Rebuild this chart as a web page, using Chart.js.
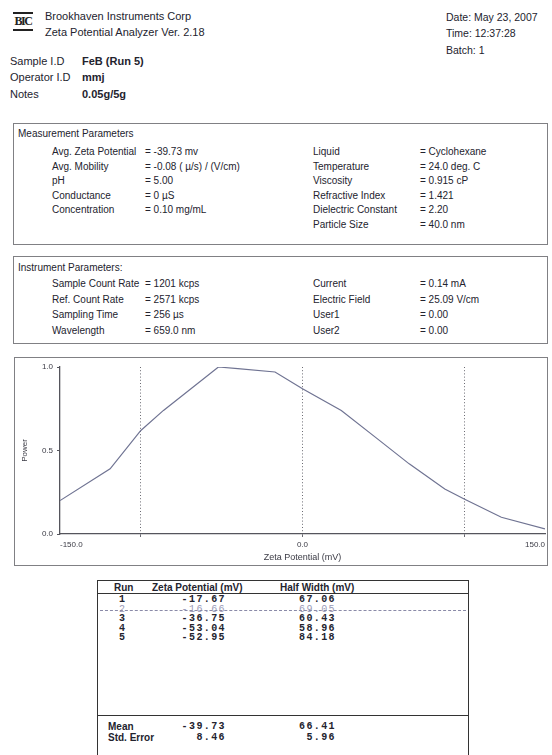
<!DOCTYPE html>
<html><head><meta charset="utf-8">
<script src="https://cdn.jsdelivr.net/npm/chart.js@4.4.1/dist/chart.umd.min.js"></script>
<style>
html,body{margin:0;padding:0;background:#fff;}
body{width:552px;height:755px;position:relative;overflow:hidden;font-family:"Liberation Sans",Arial,sans-serif;color:#23232e;}
.t{position:absolute;white-space:nowrap;line-height:1;}
.b{font-weight:bold;}
.box{position:absolute;border:1.5px solid #808084;box-sizing:border-box;}
.m{font-family:"Liberation Mono","DejaVu Sans Mono",monospace;font-weight:bold;font-size:10px;letter-spacing:1.4px;}
.s10{font-size:10px;}
.s11{font-size:11px;}
#logo{position:absolute;left:13px;top:12px;width:20px;height:19px;border-top:2px solid #222;border-bottom:2px solid #222;box-sizing:border-box;font:bold 12px "Liberation Serif",serif;letter-spacing:-1.5px;line-height:15px;text-align:center;color:#222;}
</style></head><body>

<div id="logo">BIC</div>
<div class="t s11" style="left:45px;top:10.5px">Brookhaven Instruments Corp</div>
<div class="t s11" style="left:45px;top:27px">Zeta Potential Analyzer Ver. 2.18</div>

<div class="t" style="left:446px;top:11.5px;font-size:10.5px">Date: May 23, 2007</div>
<div class="t" style="left:446px;top:28px;font-size:10.5px">Time: 12:37:28</div>
<div class="t" style="left:446px;top:44.7px;font-size:10.5px">Batch: 1</div>

<div class="t s11" style="left:10px;top:55.5px">Sample I.D</div>
<div class="t s11 b" style="left:82px;top:55.5px">FeB (Run 5)</div>
<div class="t s11" style="left:10px;top:71.5px">Operator I.D</div>
<div class="t s11 b" style="left:82px;top:71.5px">mmj</div>
<div class="t s11" style="left:10px;top:88.5px">Notes</div>
<div class="t s11 b" style="left:82px;top:88.5px">0.05g/5g</div>

<div class="box" style="left:13px;top:123px;width:535px;height:122px"></div>
<div class="t s10" style="left:18px;top:129px">Measurement Parameters</div>

<div class="box" style="left:13px;top:256px;width:535px;height:88px"></div>
<div class="t s10" style="left:18px;top:263px">Instrument Parameters:</div>

<div class="box" style="left:14px;top:357px;width:534px;height:209px"></div>
<canvas id="c" width="534" height="209" style="position:absolute;left:14px;top:357px;width:534px;height:209px"></canvas>

<div style="position:absolute;left:97px;top:580px;width:372px;height:200px;border:1.5px solid #333;box-sizing:border-box"></div>
<div style="position:absolute;left:97px;top:593px;width:372px;border-top:1px solid #333"></div>
<div style="position:absolute;left:97px;top:715px;width:372px;border-top:1.5px solid #333"></div>
<div class="t b s10" style="left:114px;top:583px">Run</div>
<div class="t b s10" style="left:152px;top:583px">Zeta Potential (mV)</div>
<div class="t b s10" style="left:280px;top:583px">Half Width (mV)</div>

<script>
// ---- chart data ----
const zetaMv = [-150, -119, -100, -86, -52, -40, -17, 0, 24, 45, 66, 88, 100, 123, 150];
const power  = [0.20, 0.39, 0.62, 0.74, 1.00, 0.99, 0.97, 0.87, 0.74, 0.58, 0.42, 0.27, 0.21, 0.10, 0.03];
const xTickValues = [-150, -100, 0, 100, 150];
const xLabelled = [-150, 0, 150];
const yTickValues = [0, 0.5, 1.0];

// ---- parameter text ----
const measLeftLabels = ["Avg. Zeta Potential", "Avg. Mobility", "pH", "Conductance", "Concentration"];
const measLeftValues = ["= -39.73 mv", "= -0.08 ( \u00b5/s) / (V/cm)", "= 5.00", "= 0 \u00b5S", "= 0.10 mg/mL"];
const measRightLabels = ["Liquid", "Temperature", "Viscosity", "Refractive Index", "Dielectric Constant", "Particle Size"];
const measRightValues = ["= Cyclohexane", "= 24.0 deg. C", "= 0.915 cP", "= 1.421", "= 2.20", "= 40.0 nm"];
const instLeftLabels = ["Sample Count Rate", "Ref. Count Rate", "Sampling Time", "Wavelength"];
const instLeftValues = ["= 1201 kcps", "= 2571 kcps", "= 256 \u00b5s", "= 659.0 nm"];
const instRightLabels = ["Current", "Electric Field", "User1", "User2"];
const instRightValues = ["= 0.14 mA", "= 25.09 V/cm", "= 0.00", "= 0.00"];

// ---- run table ----
const runs = ["1", "2", "3", "4", "5"];
const runZeta = ["-17.67", "-16.66", "-36.75", "-53.04", "-52.95"];
const runHalf = ["67.06", "69.05", "60.43", "58.96", "84.18"];
const runExcluded = [false, true, false, false, false];
const summaryLabels = ["Mean", "Std. Error"];
const summaryZeta = ["-39.73", "8.46"];
const summaryHalf = ["66.41", "5.96"];

function txt(s, left, yc, size, cls, extra) {
  const d = document.createElement('div');
  d.className = 't ' + (cls || '');
  d.textContent = s;
  d.style.left = left + 'px';
  d.style.top = (yc - size / 2) + 'px';
  d.style.fontSize = size + 'px';
  if (extra) Object.assign(d.style, extra);
  document.body.appendChild(d);
  return d;
}
const measRows = [152, 166.5, 181, 195.5, 210, 224.5];
measLeftLabels.forEach((s, i) => txt(s, 52, measRows[i], 10));
measLeftValues.forEach((s, i) => txt(s, 145, measRows[i], 10));
measRightLabels.forEach((s, i) => txt(s, 313, measRows[i], 10));
measRightValues.forEach((s, i) => txt(s, 420, measRows[i], 10));
const instRows = [284, 299.5, 315, 330.5];
instLeftLabels.forEach((s, i) => txt(s, 52, instRows[i], 10));
instLeftValues.forEach((s, i) => txt(s, 145, instRows[i], 10));
instRightLabels.forEach((s, i) => txt(s, 313, instRows[i], 10));
instRightValues.forEach((s, i) => txt(s, 420, instRows[i], 10));

const tRows = [600, 609.5, 619, 628.5, 638];
runs.forEach((r, i) => {
  const faint = runExcluded[i] ? {color: '#9a9ab8', fontWeight: 'normal'} : null;
  txt(r, 119, tRows[i], 10, 'm', faint);
  txt(runZeta[i], 150, tRows[i], 10, 'm', Object.assign({width: '76px', textAlign: 'right'}, faint || {}));
  txt(runHalf[i], 280, tRows[i], 10, 'm', Object.assign({width: '56px', textAlign: 'right'}, faint || {}));
  if (runExcluded[i]) {
    const l = document.createElement('div');
    Object.assign(l.style, {position: 'absolute', left: '100px', width: '366px', top: (tRows[i]) + 'px', borderTop: '1.5px dashed #8a8aa8'});
    document.body.appendChild(l);
  }
});
const sRows = [726.7, 738.3];
summaryLabels.forEach((s, i) => {
  txt(s, 108, sRows[i], 10, 'b');
  txt(summaryZeta[i], 150, sRows[i], 10, 'm', {width: '76px', textAlign: 'right'});
  txt(summaryHalf[i], 280, sRows[i], 10, 'm', {width: '56px', textAlign: 'right'});
});

// ---- chart ----
const points = zetaMv.map((x, i) => ({x: x, y: power[i]}));
const dotted = [-100, 0, 100];
new Chart(document.getElementById('c'), {
  type: 'line',
  data: {datasets: [{data: points, borderColor: '#6f7392', borderWidth: 1.2, pointRadius: 0, tension: 0, fill: false}]},
  options: {
    responsive: false, animation: false, devicePixelRatio: 1,
    layout: {padding: {top: 10, right: 2, left: 0, bottom: 0}},
    plugins: {legend: {display: false}, tooltip: {enabled: false}},
    scales: {
      x: {
        type: 'linear', min: -150, max: 150,
        afterBuildTicks: (ax) => { ax.ticks = xTickValues.map(v => ({value: v})); },
        afterFit: (s) => { s.height = 32; },
        ticks: {
          autoSkip: false, maxRotation: 0, align: 'inner', padding: 3,
          color: '#3a3a44', font: {family: 'Liberation Sans', size: 8},
          callback: (v) => xLabelled.includes(v) ? Number(v).toFixed(1) : ''
        },
        grid: {
          color: (ctx) => (ctx.tick && dotted.includes(ctx.tick.value)) ? '#6a6a72' : 'rgba(0,0,0,0)',
          lineWidth: 1, tickLength: 3, drawOnChartArea: true
        },
        border: {display: true, color: '#55555c', width: 1.3, dash: [1, 2.2]},
        title: {display: true, text: 'Zeta Potential (mV)', color: '#3a3a44', font: {family: 'Liberation Sans', size: 9}, padding: {top: 0, bottom: 3}}
      },
      y: {
        type: 'linear', min: 0, max: 1,
        afterBuildTicks: (ax) => { ax.ticks = yTickValues.map(v => ({value: v})); },
        afterFit: (s) => { s.width = 46; },
        ticks: {padding: 4, color: '#3a3a44', font: {family: 'Liberation Sans', size: 8}, callback: (v) => Number(v).toFixed(1)},
        grid: {drawOnChartArea: false, tickLength: 3, color: '#55555c'},
        border: {display: true, color: '#55555c', width: 1.3},
        title: {display: true, text: 'Power', color: '#3a3a44', font: {family: 'Liberation Sans', size: 8}, padding: {top: 6, bottom: 0}}
      }
    }
  }
});
</script>
</body></html>
